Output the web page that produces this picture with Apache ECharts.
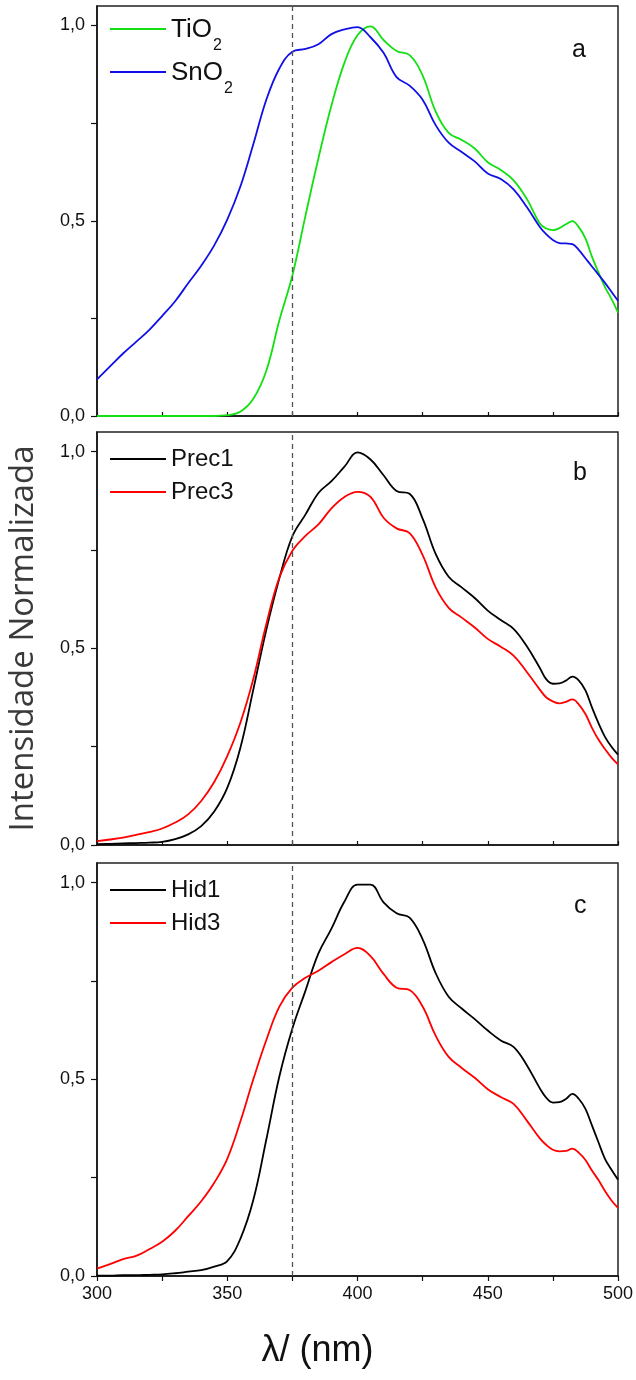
<!DOCTYPE html>
<html>
<head>
<meta charset="utf-8">
<script src="https://cdn.jsdelivr.net/npm/echarts@6/dist/echarts.min.js"></script>
<style>
html,body{margin:0;padding:0;background:#fff;}
#chart{width:636px;height:1380px;}
</style>
</head>
<body>
<div id="chart"></div>
<script>
// ---------- data (wavelength in nm, normalized intensity) ----------
var wavelengths = [300,305,310,315,320,325,330,335,340,345,350,355,360,365,370,375,380,385,390,395,400,405,410,415,420,425,430,435,440,445,450,455,460,465,470,
                   472.5,475,477.5,480,482.5,485,487.5,490,492.5,495,497.5,500];

var tio2 = [0,0,0,0,0,0,0,0,0,0,0.002,0.011,0.044,0.116,0.245,0.36,0.512,0.66,0.795,0.905,0.975,0.998,0.963,0.935,0.924,0.872,0.78,0.725,0.707,0.685,0.65,0.63,0.603,0.556,0.493,
            0.48,0.476,0.481,0.491,0.499,0.483,0.455,0.408,0.368,0.33,0.3,0.265];
var sno2 = [0.094,0.127,0.16,0.19,0.22,0.256,0.294,0.34,0.385,0.437,0.503,0.587,0.696,0.81,0.89,0.933,0.94,0.952,0.978,0.99,0.996,0.97,0.93,0.868,0.846,0.81,0.745,0.70,0.676,0.652,0.621,0.607,0.58,0.535,0.484,
            0.465,0.451,0.443,0.442,0.44,0.425,0.404,0.383,0.362,0.341,0.318,0.295];

var prec1 = [0.002,0.003,0.004,0.005,0.006,0.008,0.015,0.027,0.048,0.085,0.145,0.246,0.395,0.547,0.678,0.785,0.84,0.895,0.925,0.962,0.998,0.98,0.94,0.9,0.893,0.83,0.74,0.682,0.655,0.628,0.596,0.572,0.549,0.505,0.45,
             0.421,0.41,0.411,0.418,0.428,0.418,0.393,0.35,0.31,0.275,0.25,0.23];
var prec3 = [0.01,0.014,0.019,0.026,0.033,0.042,0.057,0.078,0.112,0.16,0.226,0.31,0.422,0.562,0.68,0.748,0.786,0.815,0.856,0.885,0.898,0.885,0.832,0.805,0.793,0.737,0.655,0.603,0.578,0.553,0.524,0.504,0.481,0.44,0.395,
             0.375,0.365,0.36,0.364,0.37,0.357,0.333,0.298,0.268,0.244,0.222,0.205];

var hid1 = [0.001,0.001,0.002,0.002,0.003,0.004,0.007,0.011,0.015,0.024,0.038,0.094,0.193,0.347,0.507,0.629,0.725,0.82,0.883,0.952,0.995,0.995,0.95,0.922,0.911,0.856,0.77,0.71,0.68,0.653,0.624,0.599,0.582,0.536,0.477,
            0.453,0.441,0.442,0.45,0.463,0.45,0.425,0.383,0.34,0.298,0.27,0.245];
var hid3 = [0.019,0.03,0.043,0.051,0.068,0.087,0.115,0.152,0.19,0.237,0.298,0.392,0.5,0.6,0.685,0.733,0.758,0.776,0.798,0.818,0.834,0.813,0.768,0.733,0.727,0.685,0.611,0.557,0.529,0.504,0.475,0.455,0.437,0.395,0.35,
            0.333,0.321,0.317,0.318,0.324,0.313,0.295,0.268,0.244,0.216,0.192,0.173];

var refLine = 375;                       // dashed reference wavelength
var xTickValues = [300,325,350,375,400,425,450,475,500];
var xLabelValues = [300,350,400,450,500];
var yTickValues = [0,0.25,0.5,0.75,1];
var yLabelValues = [0,0.5,1];
var panelLetters = ['a','b','c'];

// ---------- chart ----------
function pairs(xs, ys){ return xs.map(function(x,i){ return [x, ys[i]]; }); }

var FONT = "'Liberation Sans', Arial, sans-serif";
var grids = [
  {left:97, right:18, top:6,   height:410},
  {left:97, right:18, top:432, height:413},
  {left:97, right:18, top:863, height:413}
];
grids.forEach(function(g){
  g.show = true; g.borderColor = '#222'; g.borderWidth = 1.5; g.backgroundColor = 'transparent';
  g.containLabel = false; g.outerBoundsMode = 'none';
});

function xAx(i){
  var last = i === 2;
  var ax = {
    type:'value', gridIndex:i, min:300, max:500, interval:50,
    axisLine:{show:true, onZero:false, lineStyle:{color:'#111', width:1.5}},
    axisTick:{show:true, inside:!last, length:last?5:4, customValues:xTickValues, lineStyle:{color:'#111', width:1.2}},
    axisLabel:{show:last, customValues:xLabelValues, fontSize:18, color:'#111', fontFamily:FONT, margin:9},
    splitLine:{show:false}
  };
  if (last){
    ax.name = 'λ/ (nm)';
    ax.nameLocation = 'middle';
    ax.nameGap = 57;
    ax.nameTextStyle = {fontSize:36, color:'#111', fontFamily:FONT, padding:[0,80,0,0]};
  }
  return ax;
}
function yAx(i){
  var ax = {
    type:'value', gridIndex:i, min:0, max:1.05,
    axisLine:{show:true, onZero:false, lineStyle:{color:'#111', width:1.5}},
    axisTick:{show:true, inside:false, length:6, customValues:yTickValues, lineStyle:{color:'#111', width:1.2}},
    axisLabel:{show:true, customValues:yLabelValues, fontSize:18, color:'#111', fontFamily:FONT, margin:12,
      formatter:function(v){ return v.toFixed(1).replace('.', ','); }},
    splitLine:{show:false}
  };
  if (i === 1){
    ax.name = 'Intensidade Normalizada';
    ax.nameLocation = 'middle';
    ax.nameGap = 57;
    ax.nameTextStyle = {fontSize:33, color:'#3a3a3a', fontFamily:"'Open Sans', sans-serif"};
  }
  return ax;
}

function lineSeries(name, i, ys, color, withRef){
  var s = {
    name:name, type:'line', xAxisIndex:i, yAxisIndex:i,
    data:pairs(wavelengths, ys), symbol:'none', showSymbol:false,
    smooth:0.4,
    lineStyle:{color:color, width:1.8}, itemStyle:{color:color},
    animation:false, silent:true
  };
  if (withRef){
    s.markLine = {
      silent:true, symbol:['none','none'], animation:false,
      label:{show:false},
      lineStyle:{color:'#555', type:[5,4], width:1.3},
      data:[{xAxis:refLine}]
    };
  }
  return s;
}

var plainText = {fontSize:24, color:'#111', fontFamily:FONT, lineHeight:28};
var subText = {
  fontFamily:FONT, color:'#111',
  rich:{
    m:{fontSize:26, lineHeight:30, padding:[3,0,15,0], verticalAlign:'top', fontFamily:FONT, color:'#111'},
    s:{fontSize:16, lineHeight:16, padding:[23.5,0,0,1], verticalAlign:'top', fontFamily:FONT, color:'#111'}
  }
};
function legendFor(name, top, rich){
  var l = {
    data:[name], left:110, top:top, orient:'vertical', padding:0,
    icon:'rect', itemWidth:56, itemHeight:2, selectedMode:false,
    textStyle: rich ? subText : plainText
  };
  if (rich){
    l.formatter = function(n){ return '{m|' + n.replace('2','') + '}{s|2}'; };
  }
  return l;
}

var option = {
  backgroundColor:'#fff',
  animation:false,
  grid:grids,
  xAxis:[xAx(0), xAx(1), xAx(2)],
  yAxis:[yAx(0), yAx(1), yAx(2)],
  title:[
    {text:panelLetters[0], left:572, top:38, padding:0, textStyle:{fontSize:25, fontWeight:'normal', color:'#111', fontFamily:FONT}},
    {text:panelLetters[1], left:573, top:461, padding:0, textStyle:{fontSize:25, fontWeight:'normal', color:'#111', fontFamily:FONT}},
    {text:panelLetters[2], left:574, top:894, padding:0, textStyle:{fontSize:25, fontWeight:'normal', color:'#111', fontFamily:FONT}}
  ],
  legend:[
    legendFor('TiO2', 14, true),
    legendFor('SnO2', 57, true),
    legendFor('Prec1', 445, false),
    legendFor('Prec3', 478, false),
    legendFor('Hid1', 876, false),
    legendFor('Hid3', 909, false)
  ],
  series:[
    lineSeries('TiO2', 0, tio2, '#12e012', true),
    lineSeries('SnO2', 0, sno2, '#1010e6', false),
    lineSeries('Prec1', 1, prec1, '#000000', true),
    lineSeries('Prec3', 1, prec3, '#ff0000', false),
    lineSeries('Hid1', 2, hid1, '#000000', true),
    lineSeries('Hid3', 2, hid3, '#ff0000', false)
  ]
};

var chart = echarts.init(document.getElementById('chart'), null, {renderer:'canvas'});
chart.setOption(option);
</script>
</body>
</html>
